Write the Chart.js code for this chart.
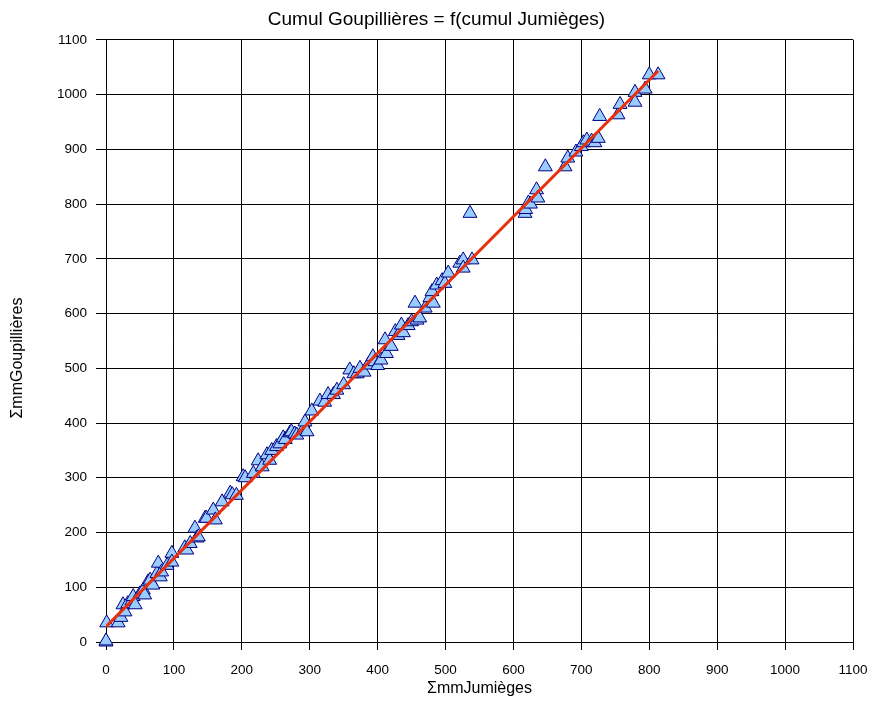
<!DOCTYPE html>
<html>
<head>
<meta charset="utf-8">
<script src="https://cdn.jsdelivr.net/npm/chart.js@4"></script>
<style>
  html, body { margin: 0; padding: 0; background: #fff; }
  #wrap { width: 873px; height: 704px; }
</style>
</head>
<body>
<div id="wrap"><canvas id="chart_1" width="873" height="704"></canvas></div>
<script>
// cumulative rainfall (mm): Jumièges on x, Goupillières on y
var cumulJumieges = [0, 0, 1, 18, 22, 25, 28, 32, 38, 40, 43, 50, 55, 57, 62, 65, 69, 75, 77, 80,
  82, 90, 97, 97, 116, 119, 124, 131, 134, 136, 146, 148, 158, 161, 171, 183, 186, 192, 202, 205,
  217, 224, 230, 237, 241, 244, 251, 256, 261, 264, 271, 273, 278, 281, 290, 293, 296, 303, 315, 322,
  327, 335, 340, 350, 359, 365, 370, 374, 380, 386, 393, 396, 400, 405, 411, 413, 420, 426, 430, 435,
  438, 445, 450, 455, 458, 462, 470, 477, 480, 482, 487, 495, 499, 504, 521, 526, 526, 536, 539, 617,
  618, 622, 625, 634, 636, 647, 676, 680, 692, 700, 703, 708, 715, 720, 725, 727, 754, 757, 779, 779,
  794, 800, 813];
var cumulGoupillieres = [0, 2, 35, 35, 45, 68, 55, 70, 75, 83, 68, 88, 95, 86, 110, 113, 104, 125, 144, 119,
  128, 140, 162, 146, 172, 168, 180, 208, 190, 192, 226, 226, 241, 223, 256, 272, 269, 268, 302, 300,
  308, 331, 320, 342, 332, 350, 357, 362, 373, 370, 382, 384, 380, 378, 387, 402, 384, 422, 440, 438,
  452, 452, 460, 470, 497, 490, 490, 500, 493, 506, 521, 512, 505, 515, 552, 527, 540, 567, 560, 579,
  565, 578, 585, 619, 588, 592, 610, 629, 640, 619, 652, 660, 655, 674, 692, 698, 683, 783, 698, 783,
  790, 802, 800, 826, 811, 868, 868, 884, 895, 905, 912, 917, 915, 912, 920, 960, 963, 982, 1004, 986,
  1010, 1036, 1036];

// linear trend line end points
var trendX = [0, 813];
var trendY = [28, 1043];

var axisTicks = [0, 100, 200, 300, 400, 500, 600, 700, 800, 900, 1000, 1100];

var yTitle = 'ΣmmGoupillières';

function toPoints(xs, ys) {
  var pts = [];
  for (var i = 0; i < xs.length; i++) {
    pts.push({ x: xs[i], y: ys[i] });
  }
  return pts;
}

var fontFamily = "'Liberation Sans', Arial, sans-serif";

var whiteBg = {
  id: 'whiteBg',
  beforeDraw: function(chart) {
    var c = chart.ctx;
    c.save();
    c.fillStyle = '#ffffff';
    c.fillRect(0, 0, chart.width, chart.height);
    c.restore();
  }
};

// y title sits a bit below the middle of the plot, like the original
var yTitlePlugin = {
  id: 'yTitlePlugin',
  afterDraw: function(chart) {
    var c = chart.ctx;
    c.save();
    c.translate(18, 358);
    c.rotate(-Math.PI / 2);
    c.fillStyle = '#000';
    c.font = '16px ' + fontFamily;
    c.textAlign = 'center';
    c.textBaseline = 'middle';
    c.fillText(yTitle, 0, 0);
    c.restore();
  }
};

function fixedTicks(scale) {
  scale.ticks = axisTicks.map(function(v) { return { value: v }; });
}

function plainLabel(value) {
  return String(value);
}

var ctx_1 = document.getElementById('chart_1').getContext('2d');
var chart_1 = new Chart(ctx_1, {
  type: 'scatter',
  data: {
    datasets: [{
      // trend line, first so it lands on top
      data: toPoints(trendX, trendY),
      showLine: true,
      borderColor: '#e8300c',
      borderWidth: 3,
      pointRadius: 0,
      fill: false
    }, {
      data: toPoints(cumulJumieges, cumulGoupillieres),
      clip: false,
      pointStyle: 'triangle',
      pointRadius: 8,
      pointBackgroundColor: '#99ccff',
      pointBorderColor: '#000080',
      pointBorderWidth: 1
    }]
  },
  options: {
    responsive: false,
    animation: false,
    events: [],
    layout: {
      padding: { left: 11, right: 11, top: 0, bottom: 2 }
    },
    plugins: {
      legend: { display: false },
      tooltip: { enabled: false },
      title: {
        display: true,
        text: 'Cumul Goupillières = f(cumul Jumièges)',
        color: '#000',
        font: { family: fontFamily, size: 19, weight: 'normal' },
        padding: { top: 8, bottom: 9 }
      }
    },
    scales: {
      x: {
        type: 'linear',
        min: 0,
        max: 1100,
        afterBuildTicks: fixedTicks,
        afterFit: function(scale) {
          scale.height = 60;
          scale.paddingLeft = 0;
          scale.paddingRight = 20;
        },
        grid: { color: '#000', lineWidth: 1, tickLength: 8 },
        border: { color: '#000', width: 1 },
        ticks: { color: '#000', padding: 12, maxRotation: 0, callback: plainLabel, font: { family: fontFamily, size: 13.5 } },
        title: {
          display: true,
          text: 'ΣmmJumièges',
          color: '#000',
          font: { family: fontFamily, size: 16 }
        }
      },
      y: {
        type: 'linear',
        min: 0,
        max: 1100,
        afterBuildTicks: fixedTicks,
        afterFit: function(scale) {
          scale.width = 95;
          scale.paddingTop = 0;
          scale.paddingBottom = 0;
        },
        grid: { color: '#000', lineWidth: 1, tickLength: 10 },
        border: { color: '#000', width: 1 },
        ticks: { color: '#000', padding: 9, callback: plainLabel, font: { family: fontFamily, size: 13.5 } },
        title: { display: false }
      }
    }
  },
  plugins: [whiteBg, yTitlePlugin]
});
</script>
</body>
</html>
